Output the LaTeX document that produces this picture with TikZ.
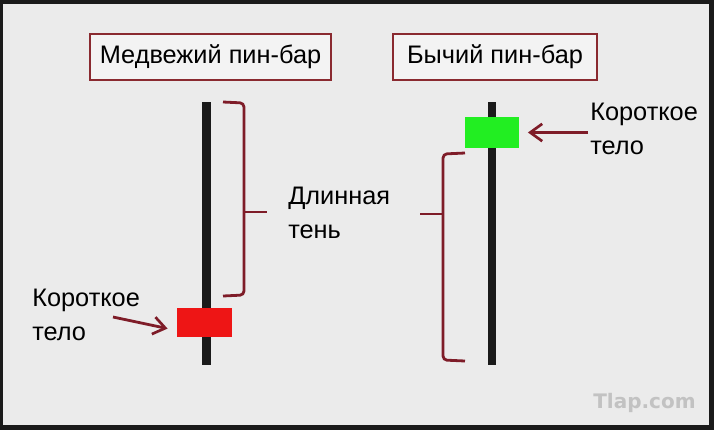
\documentclass[tikz,border=0pt]{standalone}
\usepackage{fontspec}
\setmainfont{Liberation Sans}
\newfontfamily\wmfont{DejaVu Sans}
\usetikzlibrary{arrows.meta}
\definecolor{bgc}{HTML}{EBEBEB}
\definecolor{framec}{HTML}{1A1A1A}
\definecolor{brc}{HTML}{7E1C28}
\definecolor{boxc}{HTML}{8A2A30}
\definecolor{redc}{HTML}{EE1515}
\definecolor{greenc}{HTML}{22EE22}
\definecolor{wickc}{HTML}{1A1A1A}
\definecolor{wmc}{HTML}{C2C2C2}
\tikzset{
  titlebox/.style={draw=boxc, line width=1.1pt, fill=bgc!60!white, inner sep=0pt, font=\fontsize{19}{23}\selectfont},
  wick/.style={fill=wickc, draw=none, inner sep=0pt, minimum width=6.5pt, minimum height=197pt},
  body/.style={draw=none, inner sep=0pt},
  brace/.style={draw=brc, line width=2.1pt, rounded corners=3pt},
  arr/.style={draw=brc, line width=2.1pt, -{Straight Barb[length=9pt,width=13pt,line width=2pt]}},
  lbl/.style={inner sep=0pt, anchor=base west, font=\fontsize{19}{25.5}\selectfont}
}
\begin{document}
\begin{tikzpicture}[x=0.75pt,y=-0.75pt]
\useasboundingbox (0,0) rectangle (714,430);
% frame and background
\fill[framec] (0,0) rectangle (714,430);
\fill[bgc] (3,4) rectangle (709,425);
% titles
\node[titlebox, minimum width=180.75pt, minimum height=34.5pt] (t1) at (210.5,57) {Медвежий пин-бар};
\node[titlebox, minimum width=153pt, minimum height=34.5pt] (t2) at (495,57) {Бычий пин-бар};
% left (bearish) candle
\node[wick] (w1) at (206.5,233.5) {};
\node[body, fill=redc, minimum width=41.25pt, minimum height=21.75pt] (b1) at (204.5,322.5) {};
% right (bullish) candle
\node[wick] (w2) at (492,233.5) {};
\node[body, fill=greenc, minimum width=40.5pt, minimum height=23.25pt] (b2) at (492,132.5) {};
% braces
\draw[brace] (223,102) -- (244,103) -- (244,295) -- (223,296);
\draw[brace, rounded corners=0pt] (244,212) -- (267,212);
\draw[brace] (465,153) -- (443,154) -- (443,360) -- (465,361);
\draw[brace, rounded corners=0pt] (443,214) -- (420,214);
% labels
\node[lbl] (l1) at (288,204) {\begin{tabular}[t]{@{}l@{}}Длинная\\тень\end{tabular}};
\node[lbl] (l2) at (32,306) {\begin{tabular}[t]{@{}l@{}}Короткое\\тело\end{tabular}};
\node[lbl] (l3) at (590,120) {\begin{tabular}[t]{@{}l@{}}Короткое\\тело\end{tabular}};
% arrows
\coordinate (a1) at (113,317);
\coordinate (a2) at (588,132.5);
\draw[arr, shorten >=7pt] (a1) -- ([yshift=-6pt]b1.west);
\draw[arr, shorten >=6.5pt] (a2) -- (b2.east);
% watermark
\node[inner sep=0pt, anchor=base west, text=wmc, font=\wmfont\bfseries\fontsize{15}{18}\selectfont] (wm) at (593,408) {Tlap.com};
\end{tikzpicture}
\end{document}
